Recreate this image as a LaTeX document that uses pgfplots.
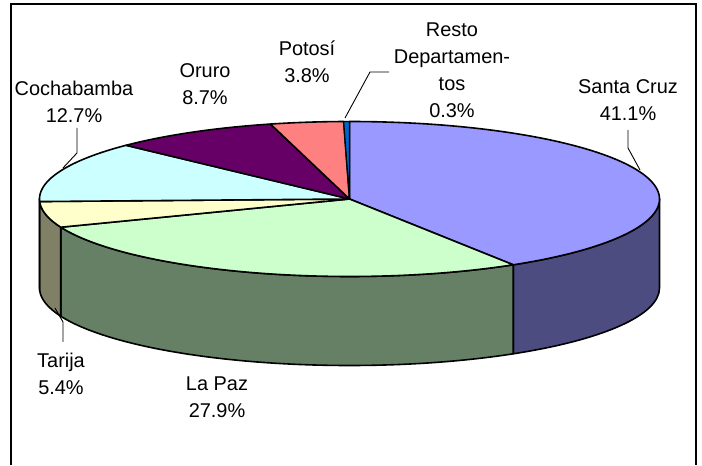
\documentclass[border=0pt]{standalone}
\usepackage{pgfplots}
\pgfplotsset{compat=1.18}
\usepackage{fontspec}
\setmainfont{Liberation Sans}
\definecolor{scTop}{HTML}{9999FF}\definecolor{scSide}{HTML}{4C4C80}
\definecolor{lpTop}{HTML}{CCFFCC}\definecolor{lpSide}{HTML}{668066}
\definecolor{taTop}{HTML}{FFFFCC}\definecolor{taSide}{HTML}{808066}
\definecolor{coTop}{HTML}{CCFFFF}\definecolor{coSide}{HTML}{668080}
\definecolor{orTop}{HTML}{660066}
\definecolor{poTop}{HTML}{FF8080}
\definecolor{reTop}{HTML}{0066CC}
\newcommand\lbl{\fontsize{20}{27}\selectfont}
\begin{document}
\begin{tikzpicture}
% pie geometry (pixels)
\def\cx{349.5}\def\cy{266}\def\rx{310}\def\ry{77.5}\def\dep{89}
% data (percent)
\def\vSC{41.1}\def\vLP{27.9}\def\vTA{5.4}\def\vCO{12.7}\def\vOR{8.7}\def\vPO{3.8}\def\vRE{0.3}
\pgfmathsetmacro\tot{\vSC+\vLP+\vTA+\vCO+\vOR+\vPO+\vRE}
\pgfmathsetmacro\aA{90}
\pgfmathsetmacro\aB{\aA-360*\vSC/\tot}
\pgfmathsetmacro\aC{\aB-360*\vLP/\tot}
\pgfmathsetmacro\aD{\aC-360*\vTA/\tot}
\pgfmathsetmacro\aE{\aD-360*\vCO/\tot}
\pgfmathsetmacro\aF{\aE-360*\vOR/\tot}
\pgfmathsetmacro\aG{\aF-360*\vPO/\tot}
\pgfmathsetmacro\aH{\aG-360*\vRE/\tot}
\begin{axis}[width=702bp, height=465bp, scale only axis,
  xmin=0, xmax=702, ymin=0, ymax=465, hide axis, clip=false]
\path (axis cs:0,0) rectangle (axis cs:702,465);
% border
\addplot[black, line width=1.5bp, mark=none] coordinates {(11,0) (11,461) (696,461) (696,0)};
% side faces
\addplot[fill=scSide, draw=black, line width=1.6bp, domain=\aB:0, samples=60, variable=\t, mark=none, line join=round]
  ({\cx+\rx*cos(\t)},{\cy+\ry*sin(\t)}) -- ++(axis direction cs:0,-\dep) arc[start angle=0, end angle=\aB, x radius=\rx, y radius=\ry] -- cycle;
\addplot[fill=lpSide, draw=black, line width=1.6bp, domain=\aC:\aB, samples=80, variable=\t, mark=none, line join=round]
  ({\cx+\rx*cos(\t)},{\cy+\ry*sin(\t)}) -- ++(axis direction cs:0,-\dep) arc[start angle=\aB, end angle=\aC, x radius=\rx, y radius=\ry] -- cycle;
\addplot[fill=taSide, draw=black, line width=1.6bp, domain=\aD:\aC, samples=30, variable=\t, mark=none, line join=round]
  ({\cx+\rx*cos(\t)},{\cy+\ry*sin(\t)}) -- ++(axis direction cs:0,-\dep) arc[start angle=\aC, end angle=\aD, x radius=\rx, y radius=\ry] -- cycle;
\addplot[fill=coSide, draw=black, line width=1.6bp, domain=-180:\aD, samples=5, variable=\t, mark=none, line join=round]
  ({\cx+\rx*cos(\t)},{\cy+\ry*sin(\t)}) -- ++(axis direction cs:0,-\dep) arc[start angle=\aD, end angle=-180, x radius=\rx, y radius=\ry] -- cycle;
% top faces
\addplot[fill=scTop, draw=black, line width=1.6bp, domain=\aB:\aA, samples=120, variable=\t, mark=none, line join=round]
  ({\cx+\rx*cos(\t)},{\cy+\ry*sin(\t)}) -- (axis cs:\cx,\cy) -- cycle;
\addplot[fill=lpTop, draw=black, line width=1.6bp, domain=\aC:\aB, samples=80, variable=\t, mark=none, line join=round]
  ({\cx+\rx*cos(\t)},{\cy+\ry*sin(\t)}) -- (axis cs:\cx,\cy) -- cycle;
\addplot[fill=taTop, draw=black, line width=1.6bp, domain=\aD:\aC, samples=30, variable=\t, mark=none, line join=round]
  ({\cx+\rx*cos(\t)},{\cy+\ry*sin(\t)}) -- (axis cs:\cx,\cy) -- cycle;
\addplot[fill=coTop, draw=black, line width=1.6bp, domain=\aE:\aD, samples=50, variable=\t, mark=none, line join=round]
  ({\cx+\rx*cos(\t)},{\cy+\ry*sin(\t)}) -- (axis cs:\cx,\cy) -- cycle;
\addplot[fill=orTop, draw=black, line width=1.6bp, domain=\aF:\aE, samples=40, variable=\t, mark=none, line join=round]
  ({\cx+\rx*cos(\t)},{\cy+\ry*sin(\t)}) -- (axis cs:\cx,\cy) -- cycle;
\addplot[fill=poTop, draw=black, line width=1.6bp, domain=\aG:\aF, samples=20, variable=\t, mark=none, line join=round]
  ({\cx+\rx*cos(\t)},{\cy+\ry*sin(\t)}) -- (axis cs:\cx,\cy) -- cycle;
\addplot[fill=reTop, draw=black, line width=1.2bp, domain=\aH:\aG, samples=5, variable=\t, mark=none, line join=round]
  ({\cx+\rx*cos(\t)},{\cy+\ry*sin(\t)}) -- (axis cs:\cx,\cy) -- cycle;
% leader lines
\addplot[black, line width=0.9bp, mark=none] coordinates {(628,335) (628,317) (640,295)};
\addplot[black, line width=0.9bp, mark=none] coordinates {(77,337) (77,312) (63,297)};
\addplot[black, line width=0.9bp, mark=none] coordinates {(345,347) (370,393) (389,393)};
\addplot[black, line width=0.9bp, mark=none] coordinates {(55,157) (63,143) (63,123)};
% labels
\node[align=center, font=\lbl, inner sep=0pt] at (axis cs:628,365) {Santa Cruz\\41.1\%};
\node[align=center, font=\lbl, inner sep=0pt] at (axis cs:452,395) {Resto\\Departamen-\\tos\\0.3\%};
\node[align=center, font=\lbl, inner sep=0pt] at (axis cs:307,403) {Potosí\\3.8\%};
\node[align=center, font=\lbl, inner sep=0pt] at (axis cs:205,381) {Oruro\\8.7\%};
\node[align=center, font=\lbl, inner sep=0pt] at (axis cs:74,363) {Cochabamba\\12.7\%};
\node[align=center, font=\lbl, inner sep=0pt] at (axis cs:61,91) {Tarija\\5.4\%};
\node[align=center, font=\lbl, inner sep=0pt] at (axis cs:217,68) {La Paz\\27.9\%};
\end{axis}
\end{tikzpicture}
\end{document}
